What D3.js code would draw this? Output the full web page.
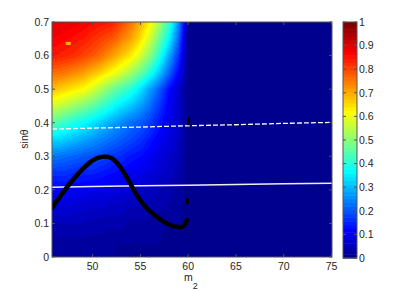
<!DOCTYPE html>
<html>
<head>
<meta charset="utf-8">
<script src="https://cdn.jsdelivr.net/npm/d3@7"></script>
<style>
  body { margin: 0; background: #fff; }
  svg { display: block; font-family: "Liberation Sans", Arial, sans-serif; }
</style>
</head>
<body>
<svg id="chart" width="407" height="291"></svg>
<script>
// grid of the field (m2 columns, sin theta rows)
const gridX = [46, 47, 48, 49, 50, 51, 52, 53, 54, 55, 56, 57, 58, 59, 60];
const gridY = [0, 0.05, 0.1, 0.15, 0.2, 0.25, 0.3, 0.35, 0.4, 0.45, 0.5, 0.55, 0.6, 0.65, 0.7];
const fieldValues = [
  [.01,.01,.01,.01,.01,.01,.01,0,0,0,0,0,0,0,0],
  [.02,.02,.02,.02,.02,.02,.01,.01,.01,.01,.01,.01,0,0,0],
  [.04,.04,.04,.04,.03,.03,.03,.03,.02,.02,.02,.01,.01,.01,0],
  [.07,.07,.07,.06,.06,.06,.05,.05,.04,.04,.03,.03,.02,.01,0],
  [.11,.11,.10,.10,.09,.09,.08,.08,.07,.06,.05,.04,.03,.02,0],
  [.16,.16,.15,.14,.14,.13,.12,.11,.10,.09,.08,.06,.05,.03,0],
  [.23,.22,.21,.20,.19,.18,.16,.15,.13,.12,.10,.08,.06,.04,0],
  [.33,.32,.30,.28,.26,.24,.22,.20,.18,.16,.13,.10,.08,.05,0],
  [.45,.42,.39,.37,.34,.31,.28,.25,.22,.20,.17,.13,.09,.06,0],
  [.57,.55,.52,.49,.46,.42,.38,.34,.31,.27,.22,.16,.10,.06,0],
  [.68,.66,.64,.62,.58,.53,.48,.44,.40,.34,.27,.20,.12,.06,0],
  [.77,.76,.74,.72,.69,.66,.62,.58,.53,.47,.40,.31,.21,.11,0],
  [.85,.84,.83,.81,.79,.76,.72,.68,.64,.58,.50,.40,.28,.16,0],
  [.88,.87,.86,.85,.83,.81,.79,.75,.71,.65,.57,.47,.36,.21,0],
  [.90,.90,.89,.88,.87,.86,.85,.81,.76,.70,.63,.53,.42,.25,0]
];

// black curve
const curveM2 = [45.72, 46.59, 47.63, 49.03, 50.08, 51.12, 52.0, 52.87, 53.74, 54.62, 55.67, 56.71, 57.76, 58.8, 59.5, 59.86];
const curveSin = [0.145, 0.180, 0.219, 0.264, 0.289, 0.299, 0.294, 0.269, 0.229, 0.185, 0.145, 0.120, 0.100, 0.090, 0.092, 0.110];

// white lines
const dashedM2 = [45.75, 50, 55, 60, 65, 70, 75.05];
const dashedSin = [0.381, 0.384, 0.387, 0.391, 0.394, 0.398, 0.401];
const solidM2 = [45.75, 50, 55, 60, 65, 70, 75.05];
const solidSin = [0.208, 0.210, 0.212, 0.214, 0.216, 0.218, 0.220];

// short black marks near m2 = 60
const markM2 = [60.05, 59.92];
const markSinLo = [0.392, 0.158];
const markSinHi = [0.416, 0.175];

// small spot in the top-left
const spotM2 = [47.45];
const spotSin = [0.636];

const xTicks = [50, 55, 60, 65, 70, 75];
const yTicks = [0, 0.1, 0.2, 0.3, 0.4, 0.5, 0.6, 0.7];
const cbTicks = [0, 0.1, 0.2, 0.3, 0.4, 0.5, 0.6, 0.7, 0.8, 0.9, 1];

const pLeft = 52, pRight = 332, pTop = 22, pBottom = 257;
const svg = d3.select("#chart");

const x = d3.scaleLinear().domain([45.75, 75.05]).range([pLeft, pRight]);
const y = d3.scaleLinear().domain([0, 0.7]).range([pBottom, pTop]);

// matlab jet, 64 levels
function jet(v) {
  const i = Math.max(0, Math.min(63, Math.round(v * 63)));
  const t = (i + 1) / 64;
  const c = a => Math.max(0, Math.min(1, a));
  const r = c(1.5 - Math.abs(4 * t - 3));
  const g = c(1.5 - Math.abs(4 * t - 2));
  const b = c(1.5 - Math.abs(4 * t - 1));
  return [Math.round(r * 255), Math.round(g * 255), Math.round(b * 255)];
}

function lookup(mx, sy) {
  let cx = Math.max(gridX[0], Math.min(gridX[gridX.length - 1], mx));
  let cyv = Math.max(gridY[0], Math.min(gridY[gridY.length - 1], sy));
  let i = Math.min(gridX.length - 2, d3.bisectRight(gridX, cx) - 1);
  let j = Math.min(gridY.length - 2, d3.bisectRight(gridY, cyv) - 1);
  const fx = (cx - gridX[i]) / (gridX[i + 1] - gridX[i]);
  const fy = (cyv - gridY[j]) / (gridY[j + 1] - gridY[j]);
  const a = fieldValues[j][i], b = fieldValues[j][i + 1];
  const c = fieldValues[j + 1][i], d = fieldValues[j + 1][i + 1];
  return (a * (1 - fx) + b * fx) * (1 - fy) + (c * (1 - fx) + d * fx) * fy;
}

// draw the field on a canvas and put it in the svg
const W = pRight - pLeft, H = pBottom - pTop;
const canvas = document.createElement("canvas");
canvas.width = W; canvas.height = H;
const ctx = canvas.getContext("2d");
const img = ctx.createImageData(W, H);
for (let py = 0; py < H; py++) {
  const sy = y.invert(pTop + py + 0.5);
  for (let px = 0; px < W; px++) {
    const mx = x.invert(pLeft + px + 0.5);
    const col = jet(lookup(mx, sy));
    const k = (py * W + px) * 4;
    img.data[k] = col[0]; img.data[k + 1] = col[1]; img.data[k + 2] = col[2]; img.data[k + 3] = 255;
  }
}
ctx.putImageData(img, 0, 0);
svg.append("image")
  .attr("x", pLeft).attr("y", pTop)
  .attr("width", W).attr("height", H)
  .attr("href", canvas.toDataURL());

svg.append("clipPath").attr("id", "clip")
  .append("rect").attr("x", pLeft).attr("y", pTop).attr("width", W).attr("height", H);
const plot = svg.append("g").attr("clip-path", "url(#clip)");

// spot
plot.selectAll(".spot").data(spotM2).enter().append("rect")
  .attr("x", (d) => x(d) - 2.5)
  .attr("y", (d, i) => y(spotSin[i]) - 1.5)
  .attr("width", 5).attr("height", 3)
  .attr("fill", "#ffb000");

const line = d3.line().x(d => x(d[0])).y(d => y(d[1]));

plot.append("path")
  .datum(dashedM2.map((d, i) => [d, dashedSin[i]]))
  .attr("d", line)
  .attr("fill", "none")
  .attr("stroke", "#fff")
  .attr("stroke-width", 1.3)
  .attr("stroke-dasharray", "5,2");

plot.append("path")
  .datum(solidM2.map((d, i) => [d, solidSin[i]]))
  .attr("d", line)
  .attr("fill", "none")
  .attr("stroke", "#eeeeee")
  .attr("stroke-width", 1.5);

plot.append("path")
  .datum(curveM2.map((d, i) => [d, curveSin[i]]))
  .attr("d", line.curve(d3.curveCatmullRom))
  .attr("fill", "none")
  .attr("stroke", "#000")
  .attr("stroke-width", 4.5)
  .attr("stroke-linecap", "round")
  .attr("stroke-linejoin", "round");

plot.selectAll(".mark").data(markM2).enter().append("line")
  .attr("x1", d => x(d)).attr("x2", d => x(d))
  .attr("y1", (d, i) => y(markSinLo[i]))
  .attr("y2", (d, i) => y(markSinHi[i]))
  .attr("stroke", "#000")
  .attr("stroke-width", 2.8);

// axes box and inward ticks
const axisCol = "#555";
svg.append("rect")
  .attr("x", pLeft).attr("y", pTop).attr("width", W).attr("height", H)
  .attr("fill", "none").attr("stroke", axisCol).attr("stroke-width", 1);

xTicks.forEach(t => {
  svg.append("line").attr("x1", x(t)).attr("x2", x(t)).attr("y1", pBottom).attr("y2", pBottom - 3).attr("stroke", axisCol);
  svg.append("line").attr("x1", x(t)).attr("x2", x(t)).attr("y1", pTop).attr("y2", pTop + 3).attr("stroke", axisCol);
  svg.append("text").attr("x", x(t)).attr("y", 269.5)
    .attr("text-anchor", "middle").attr("font-size", 10.5).attr("fill", "#262626").text(t);
});
yTicks.forEach(t => {
  svg.append("line").attr("x1", pLeft).attr("x2", pLeft + 3).attr("y1", y(t)).attr("y2", y(t)).attr("stroke", axisCol);
  svg.append("line").attr("x1", pRight).attr("x2", pRight - 3).attr("y1", y(t)).attr("y2", y(t)).attr("stroke", axisCol);
  svg.append("text").attr("x", pLeft - 3).attr("y", y(t) + 3.8)
    .attr("text-anchor", "end").attr("font-size", 10.5).attr("fill", "#262626").text(t);
});

// axis labels
const xl = svg.append("text").attr("x", 191).attr("y", 280.5)
  .attr("text-anchor", "middle").attr("font-size", 10.5).attr("fill", "#262626");
xl.append("tspan").text("m");
xl.append("tspan").attr("dy", 8).attr("font-size", 9).text("2");

svg.append("text")
  .attr("transform", "translate(28,139) rotate(-90)")
  .attr("text-anchor", "middle").attr("font-size", 10.5).attr("fill", "#262626")
  .text("sinθ");

// colorbar
const cbLeft = 343, cbRight = 357, cbTop = 22, cbBottom = 258;
const cbY = d3.scaleLinear().domain([0, 1]).range([cbBottom, cbTop]);
const levels = d3.range(64);
svg.append("g").selectAll("rect").data(levels).enter().append("rect")
  .attr("x", cbLeft)
  .attr("y", d => cbY((d + 1) / 64))
  .attr("width", cbRight - cbLeft)
  .attr("height", d => cbY(d / 64) - cbY((d + 1) / 64) + 0.5)
  .attr("fill", d => { const c = jet(d / 63); return `rgb(${c[0]},${c[1]},${c[2]})`; });
svg.append("rect")
  .attr("x", cbLeft).attr("y", cbTop).attr("width", cbRight - cbLeft).attr("height", cbBottom - cbTop)
  .attr("fill", "none").attr("stroke", axisCol);
cbTicks.forEach(t => {
  svg.append("line").attr("x1", cbRight).attr("x2", cbRight - 3).attr("y1", cbY(t)).attr("y2", cbY(t)).attr("stroke", axisCol);
  svg.append("line").attr("x1", cbLeft).attr("x2", cbLeft + 3).attr("y1", cbY(t)).attr("y2", cbY(t)).attr("stroke", axisCol);
  svg.append("text").attr("x", cbRight + 2).attr("y", cbY(t) + 3.8)
    .attr("font-size", 10.5).attr("fill", "#262626").text(t);
});
</script>
</body>
</html>
